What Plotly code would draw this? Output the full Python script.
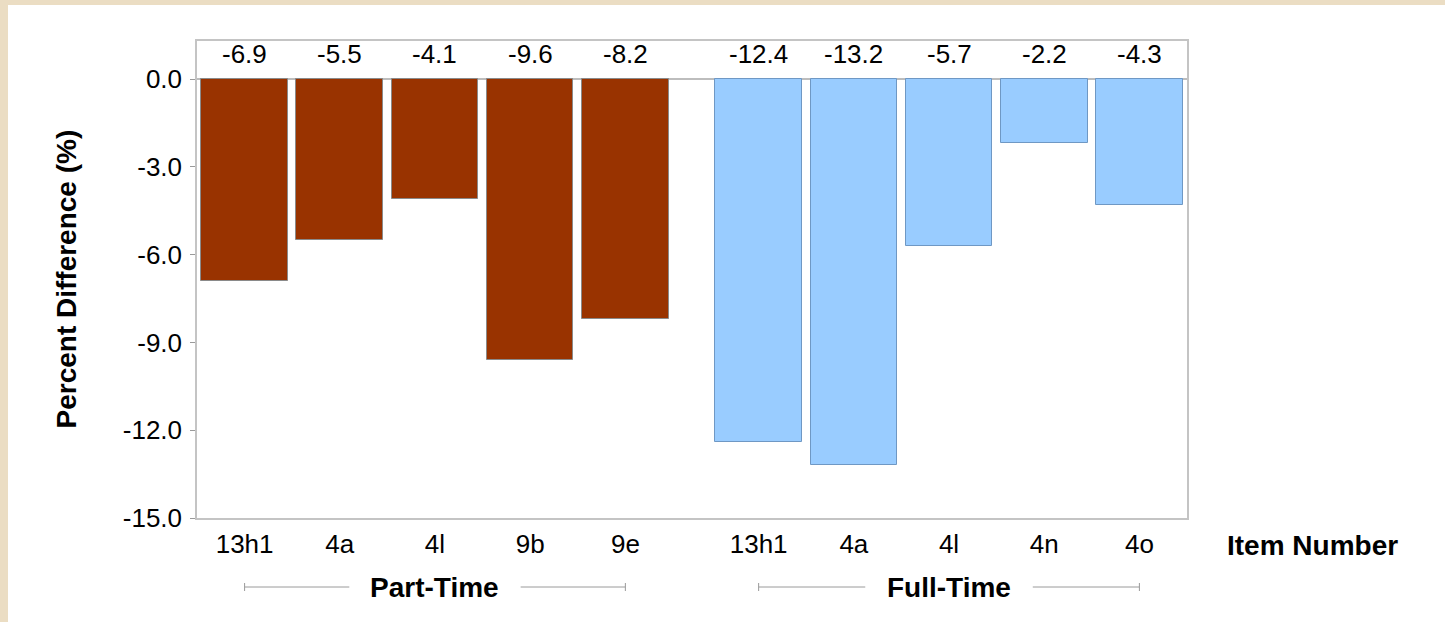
import plotly.graph_objects as go

part_items = ["13h1", "4a", "4l", "9b", "9e"]
part_values = [-6.9, -5.5, -4.1, -9.6, -8.2]
full_items = ["13h1", "4a", "4l", "4n", "4o"]
full_values = [-12.4, -13.2, -5.7, -2.2, -4.3]
group_names = ["Part-Time", "Full-Time"]
y_ticks = [0.0, -3.0, -6.0, -9.0, -12.0, -15.0]

FONT = "Liberation Sans, Arial, sans-serif"
W, H = 1445, 622
L, R, T, B = 197, 258, 41, 104
pw, ph = W - L - R, H - T - B

gap = 0.4
x_part = [i for i in range(len(part_items))]
x_full = [len(part_items) + gap + i for i in range(len(full_items))]


def py(p):
    return (H - B - p) / ph


fig = go.Figure()
fig.add_trace(go.Bar(x=x_part, y=part_values, width=0.91,
                     marker=dict(color="#993300", line=dict(color="#8a8a8a", width=1)),
                     showlegend=False, hoverinfo="y"))
fig.add_trace(go.Bar(x=x_full, y=full_values, width=0.91,
                     marker=dict(color="#99CCFF", line=dict(color="#6F98C4", width=1)),
                     showlegend=False, hoverinfo="y"))

annotations = []
for xs, vals in ((x_part, part_values), (x_full, full_values)):
    for x, v in zip(xs, vals):
        annotations.append(dict(x=x, y=py(54), xref="x", yref="paper",
                                xanchor="center", yanchor="middle",
                                text=f"{v:.1f}", showarrow=False,
                                font=dict(family=FONT, size=26, color="#000")))

shapes = []
shapes.append(dict(type="rect", xref="paper", yref="paper",
                   x0=(8 - L) / pw, x1=(W + 10 - L) / pw, y0=py(H + 10), y1=py(5),
                   fillcolor="white", line=dict(width=0), layer="below"))
for name, xs, half in ((group_names[0], x_part, 0.9), (group_names[1], x_full, 0.88)):
    c = (xs[0] + xs[-1]) / 2
    yb = py(587)
    annotations.append(dict(x=c, y=yb, xref="x", yref="paper", text=f"<b>{name}</b>",
                            xanchor="center", yanchor="middle",
                            showarrow=False, font=dict(family=FONT, size=28, color="#000")))
    lc = "#9a9a9a"
    shapes.append(dict(type="line", xref="x", yref="paper", x0=xs[0], x1=c - half, y0=yb, y1=yb,
                       line=dict(color=lc, width=1)))
    shapes.append(dict(type="line", xref="x", yref="paper", x0=c + half, x1=xs[-1], y0=yb, y1=yb,
                       line=dict(color=lc, width=1)))
    for xe in (xs[0], xs[-1]):
        shapes.append(dict(type="line", xref="x", yref="paper", x0=xe, x1=xe,
                           y0=py(583), y1=py(591), line=dict(color=lc, width=1)))

annotations.append(dict(x=(1312 - L) / pw, y=py(545), xref="paper", yref="paper",
                        xanchor="center", yanchor="middle",
                        text="<b>Item Number</b>", showarrow=False,
                        font=dict(family=FONT, size=28, color="#000")))
annotations.append(dict(x=(66 - L) / pw, y=0.5, xref="paper", yref="paper",
                        xanchor="center", yanchor="middle",
                        text="<b>Percent Difference (%)</b>", showarrow=False, textangle=-90,
                        font=dict(family=FONT, size=28, color="#000")))

fig.update_layout(
    width=W, height=H,
    margin=dict(l=L, r=R, t=T, b=B),
    paper_bgcolor="#EBDDC3",
    plot_bgcolor="white",
    bargap=0,
    font=dict(family=FONT, size=26, color="#000"),
    annotations=annotations,
    shapes=shapes,
    xaxis=dict(range=[-0.5, x_full[-1] + 0.5], tickvals=x_part + x_full,
               ticktext=part_items + full_items, showgrid=False, zeroline=False,
               showline=True, mirror=True, linecolor="#C4C4C4", linewidth=1.5,
               ticks="", tickfont=dict(family=FONT, size=26, color="#000"),
               ticklabelstandoff=2),
    yaxis=dict(range=[-15, 1.3], tickvals=y_ticks, ticktext=[f"{v:.1f}" for v in y_ticks],
               showgrid=False, zeroline=True, zerolinecolor="#BDBDBD", zerolinewidth=1.5,
               showline=True, mirror=True, linecolor="#C4C4C4", linewidth=1.5,
               ticks="outside", ticklen=5, tickcolor="#9a9a9a",
               ticklabelstandoff=3,
               tickfont=dict(family=FONT, size=26, color="#000")),
)

fig.write_html("out.html", config={"displayModeBar": False},
               post_script="document.body.style.margin='0';document.body.style.overflow='hidden';")
